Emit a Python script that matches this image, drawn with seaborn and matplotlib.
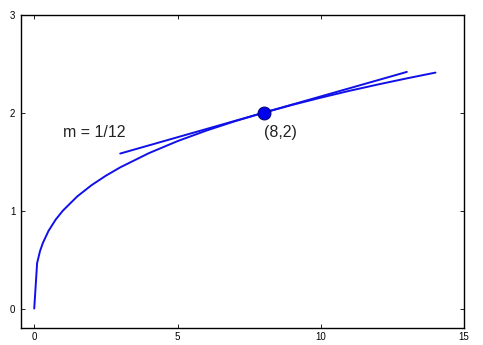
import matplotlib
matplotlib.use("Agg")
import matplotlib.pyplot as plt
import seaborn as sns
import pandas as pd

# Curve y = f(x)
curve_x = [0, 0.1, 0.2, 0.3, 0.5, 0.75, 1, 1.5, 2, 2.5, 3, 4, 5, 6, 7, 8, 9, 10, 11, 12, 13, 14]
curve_y = [0, 0.464, 0.585, 0.669, 0.794, 0.909, 1.0, 1.145, 1.26, 1.357, 1.442, 1.587,
           1.71, 1.817, 1.913, 2.0, 2.08, 2.154, 2.224, 2.289, 2.351, 2.41]

# Tangent line endpoints
tan_x = [3, 13]
tan_y = [1.583, 2.417]

# Point of tangency
pt_x = [8]
pt_y = [2]

slope_label = "m = 1/12"
point_label = "(8,2)"

sns.set_style("white")
plt.rcParams['font.family'] = ['Liberation Sans', 'DejaVu Sans']

fig = plt.figure(figsize=(4.83, 3.45), dpi=100)
ax = fig.add_axes([0.043, 0.049, 0.918, 0.908])

blue = "#1010e8"
curve_df = pd.DataFrame({"x": curve_x, "y": curve_y})
tan_df = pd.DataFrame({"x": tan_x, "y": tan_y})
pt_df = pd.DataFrame({"x": pt_x, "y": pt_y})

sns.lineplot(data=curve_df, x="x", y="y", sort=False, color=blue, linewidth=1.4, ax=ax)
sns.lineplot(data=tan_df, x="x", y="y", sort=False, color=blue, linewidth=1.4, ax=ax)
sns.scatterplot(data=pt_df, x="x", y="y", color="#0000ee", edgecolor="#000080",
                s=85, linewidth=0.8, zorder=5, ax=ax)

ax.text(1.0, 1.8, slope_label, fontsize=11.5, va="center", ha="left", color="#222222")
ax.text(8.0, 1.8, point_label, fontsize=11.5, va="center", ha="left", color="#222222")

ax.set_xlim(-0.47, 15)
ax.set_ylim(-0.2, 3)
ax.set_xticks([0, 5, 10, 15])
ax.set_yticks([0, 1, 2, 3])
ax.set_xlabel("")
ax.set_ylabel("")
for s in ax.spines.values():
    s.set_visible(True)
    s.set_color("black")
    s.set_linewidth(1.0)
ax.tick_params(direction="in", length=3, width=0.6, labelsize=7, pad=3,
               top=True, right=True, bottom=True, left=True, colors="black")
ax.tick_params(axis="y", pad=4)

fig.savefig("out.png", dpi=100)
